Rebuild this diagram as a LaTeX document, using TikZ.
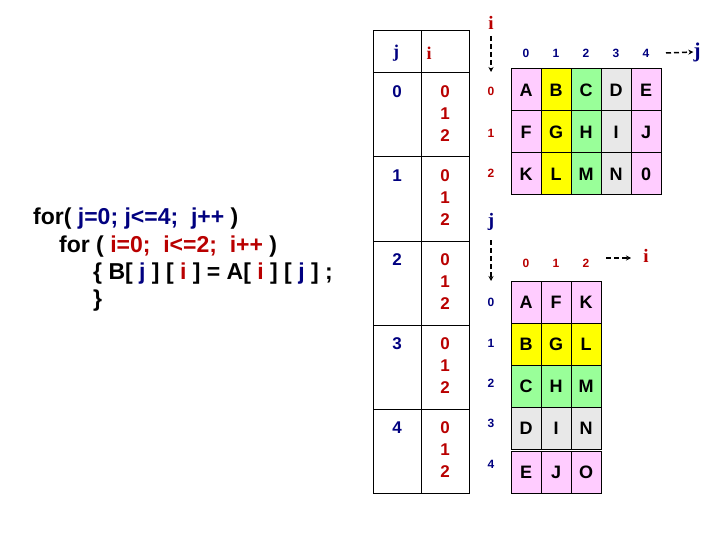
\documentclass[tikz,border=0pt]{standalone}
\usepackage{fontspec}
\setmainfont{Liberation Sans}
\newfontfamily\serifvar{Liberation Serif}
\usetikzlibrary{arrows.meta}
\definecolor{navy}{RGB}{0,0,128}
\definecolor{darkred}{RGB}{185,0,0}
\definecolor{cpink}{RGB}{255,204,255}
\definecolor{cyellow}{RGB}{255,255,0}
\definecolor{cgreen}{RGB}{153,255,153}
\definecolor{cgray}{RGB}{232,232,232}
\tikzset{
  cell/.style={draw, line width=1pt, minimum width=30pt, minimum height=42pt, inner sep=0pt, font=\fontsize{18}{18}\selectfont\bfseries},
  idx/.style={inner sep=0pt, font=\fontsize{12}{12}\selectfont\bfseries},
  tabnum/.style={inner sep=0pt, align=center, font=\fontsize{17}{22}\selectfont\bfseries},
  var/.style={inner sep=0pt, font=\fontsize{19}{19}\selectfont\serifvar\bfseries},
  code/.style={anchor=base west, inner sep=0pt, font=\fontsize{23}{23}\selectfont\bfseries},
  ptr/.style={line width=1.5pt, dash pattern=on 5pt off 3pt, -{Stealth[length=5pt,width=5pt]}},
}
\begin{document}
\begin{tikzpicture}[x=1pt, y=-1pt]
\useasboundingbox[fill=white] (0,0) rectangle (720,540);

\node[code] (code1) at (33,225) {for( \textcolor{navy}{j=0; j<=4;\ \ j++} )};
\node[code] (code2) at (59,252) {for ( \textcolor{darkred}{i=0;\ \ i<=2;\ \ i++} )};
\node[code] (code3) at (93,279) {\{ B[ \textcolor{navy}{j} ] [ \textcolor{darkred}{i} ] = A[ \textcolor{darkred}{i} ] [ \textcolor{navy}{j} ] ;};
\node[code] (code4) at (93,306) {\}};

\draw[line width=1pt] (373,31) rectangle (469,493);
\draw[line width=1pt] (421,31) -- (421,493);
\draw[line width=1pt] (373,73) -- (469,73);
\draw[line width=1pt] (373,157) -- (469,157);
\draw[line width=1pt] (373,241) -- (469,241);
\draw[line width=1pt] (373,325) -- (469,325);
\draw[line width=1pt] (373,409) -- (469,409);
\node[var, navy, font=\fontsize{18}{18}\selectfont\serifvar\bfseries] (thj) at (396,53) {j};
\node[var, darkred, font=\fontsize{18}{18}\selectfont\serifvar\bfseries] (thi) at (429,53) {i};
\node[tabnum, navy] (tj0) at (397,92) {0};
\node[tabnum, navy] (tj1) at (397,176) {1};
\node[tabnum, navy] (tj2) at (397,260) {2};
\node[tabnum, navy] (tj3) at (397,344) {3};
\node[tabnum, navy] (tj4) at (397,428) {4};
\node[tabnum, darkred] (ti0) at (445,114) {0\\1\\2};
\node[tabnum, darkred] (ti1) at (445,198) {0\\1\\2};
\node[tabnum, darkred] (ti2) at (445,282) {0\\1\\2};
\node[tabnum, darkred] (ti3) at (445,366) {0\\1\\2};
\node[tabnum, darkred] (ti4) at (445,450) {0\\1\\2};

\node[var, darkred] (ai) at (491,23) {i};
\coordinate (aiTop) at (491,36);
\coordinate (aiEnd) at (491,72);
\draw[ptr] (aiTop) -- (aiEnd);
\node[var, navy, font=\fontsize{21}{21}\selectfont\serifvar\bfseries] (aj) at (697,52) {j};
\coordinate (ajTail) at (666,53);
\draw[ptr] (ajTail) -- (aj.west);
\node[idx, navy] (ac0) at (526,53) {0};
\node[idx, navy] (ac1) at (556,53) {1};
\node[idx, navy] (ac2) at (586,53) {2};
\node[idx, navy] (ac3) at (616,53) {3};
\node[idx, navy] (ac4) at (646,53) {4};
\node[idx, darkred] (ar0) at (491,91) {0};
\node[idx, darkred] (ar1) at (491,133) {1};
\node[idx, darkred] (ar2) at (491,173) {2};

\node[cell, fill=cpink] (a00) at (526,90) {A};
\node[cell, fill=cyellow] (a01) at (556,90) {B};
\node[cell, fill=cgreen] (a02) at (586,90) {C};
\node[cell, fill=cgray] (a03) at (616,90) {D};
\node[cell, fill=cpink] (a04) at (646,90) {E};
\node[cell, fill=cpink] (a10) at (526,132) {F};
\node[cell, fill=cyellow] (a11) at (556,132) {G};
\node[cell, fill=cgreen] (a12) at (586,132) {H};
\node[cell, fill=cgray] (a13) at (616,132) {I};
\node[cell, fill=cpink] (a14) at (646,132) {J};
\node[cell, fill=cpink] (a20) at (526,174) {K};
\node[cell, fill=cyellow] (a21) at (556,174) {L};
\node[cell, fill=cgreen] (a22) at (586,174) {M};
\node[cell, fill=cgray] (a23) at (616,174) {N};
\node[cell, fill=cpink] (a24) at (646,174) {0};

\node[var, navy] (bj) at (491,222) {j};
\coordinate (bjTop) at (491,240);
\coordinate (bjEnd) at (491,281);
\draw[ptr] (bjTop) -- (bjEnd);
\node[var, darkred] (bi) at (646,256) {i};
\coordinate (biTail) at (606,258);
\coordinate (biEnd) at (631,258);
\draw[ptr] (biTail) -- (biEnd);
\node[idx, darkred] (bc0) at (526,263) {0};
\node[idx, darkred] (bc1) at (556,263) {1};
\node[idx, darkred] (bc2) at (586,263) {2};
\node[idx, navy] (br0) at (491,302) {0};
\node[idx, navy] (br1) at (491,343) {1};
\node[idx, navy] (br2) at (491,383) {2};
\node[idx, navy] (br3) at (491,423) {3};
\node[idx, navy] (br4) at (491,464) {4};

\node[cell, fill=cpink] (b00) at (526,302) {A};
\node[cell, fill=cpink] (b01) at (556,302) {F};
\node[cell, fill=cpink] (b02) at (586,302) {K};
\node[cell, fill=cyellow] (b10) at (526,344) {B};
\node[cell, fill=cyellow] (b11) at (556,344) {G};
\node[cell, fill=cyellow] (b12) at (586,344) {L};
\node[cell, fill=cgreen] (b20) at (526,386) {C};
\node[cell, fill=cgreen] (b21) at (556,386) {H};
\node[cell, fill=cgreen] (b22) at (586,386) {M};
\node[cell, fill=cgray] (b30) at (526,428) {D};
\node[cell, fill=cgray] (b31) at (556,428) {I};
\node[cell, fill=cgray] (b32) at (586,428) {N};
\node[cell, fill=cpink] (b40) at (526,472) {E};
\node[cell, fill=cpink] (b41) at (556,472) {J};
\node[cell, fill=cpink] (b42) at (586,472) {O};
\end{tikzpicture}
\end{document}
